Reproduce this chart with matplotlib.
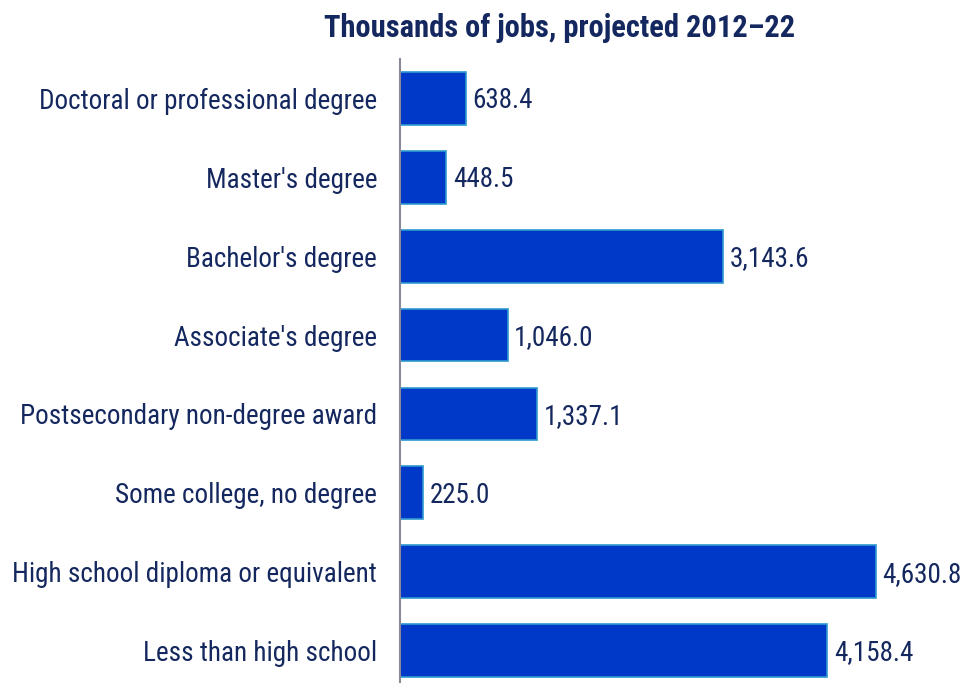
import matplotlib.pyplot as plt
from matplotlib import font_manager

categories = [
    "Doctoral or professional degree",
    "Master's degree",
    "Bachelor's degree",
    "Associate's degree",
    "Postsecondary non-degree award",
    "Some college, no degree",
    "High school diploma or equivalent",
    "Less than high school",
]
jobs = [638.4, 448.5, 3143.6, 1046.0, 1337.1, 225.0, 4630.8, 4158.4]

# narrow sans face, falling back to DejaVu
names = {f.name for f in font_manager.fontManager.ttflist}
family = "DejaVu Sans"
for cand in ("Roboto Condensed", "Archivo Narrow", "Liberation Sans Narrow",
             "Barlow Semi Condensed"):
    if cand in names:
        family = cand
        break
plt.rcParams["font.family"] = family

TEXT = "#14285f"
BAR = "#0038c8"
EDGE = "#2e9ad0"

W, H = 962, 683
fig = plt.figure(figsize=(W / 100, H / 100), dpi=100)
ax = fig.add_axes([400 / W, 1 - 690 / H, 555 / W, 631 / H])

pos = list(range(len(categories)))
ax.barh(pos, jobs, height=0.67, color=BAR, edgecolor=EDGE, linewidth=1.2)
ax.set_ylim(len(categories) - 0.5, -0.5)
ax.set_xlim(0, 5400)

for y, v in zip(pos, jobs):
    ax.text(v + 65, y + 0.03, f"{v:,.1f}", va="center", ha="left",
            fontsize=19.5, color=TEXT)

ax.set_yticks(pos)
ax.set_yticklabels(categories, fontsize=19.5, color=TEXT)
ax.tick_params(axis="y", length=0, pad=16.5)
ax.set_xticks([])
for side in ("top", "right", "bottom"):
    ax.spines[side].set_visible(False)
ax.spines["left"].set_color("#8a8a9a")
ax.spines["left"].set_linewidth(1.5)

fig.text(560 / W, 1 - 28 / H, "Thousands of jobs, projected 2012\u201322",
         ha="center", va="center", fontsize=22, fontweight="bold", color=TEXT)

fig.savefig("out.png", dpi=100, facecolor="white")
